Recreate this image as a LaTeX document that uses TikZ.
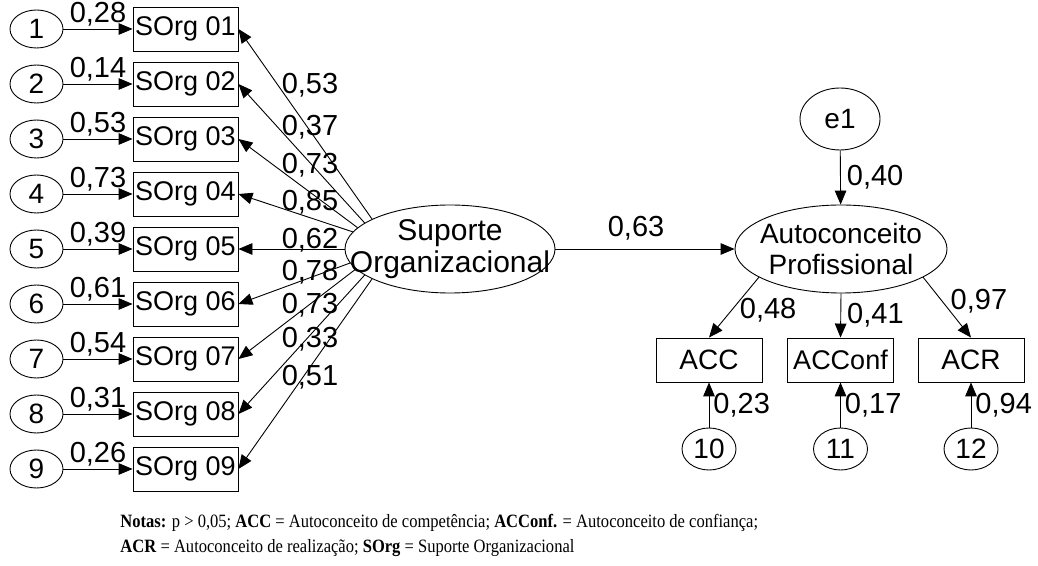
\documentclass[tikz,border=0pt]{standalone}
\usepackage{fontspec}
\setmainfont{Liberation Sans}
\newfontfamily\notafont{Liberation Serif}[FakeStretch=0.88]
\usetikzlibrary{arrows.meta, positioning, shapes.geometric}

\begin{document}
\begin{tikzpicture}[
        x=0.5pt, y=-0.5pt,
        >={Triangle[length=7pt, width=5.8pt]},
        line width=0.45pt,
        item/.style={rectangle, draw=black, minimum width=52.5pt, minimum height=22pt, inner sep=0pt, font=\fontsize{13.5}{15}\selectfont},
        erro/.style={ellipse, draw=black, minimum width=26.5pt, minimum height=19pt, inner sep=0pt, font=\fontsize{14}{16}\selectfont},
        latente/.style={ellipse, draw=black, minimum width=105pt, minimum height=44pt, inner sep=0pt},
        nome/.style={align=center, inner sep=0pt, font=\fontsize{15}{16}\selectfont},
        coef/.style={inner sep=1pt, font=\fontsize{14.5}{16}\selectfont},
        line/.style={draw, ->}
    ]
        \useasboundingbox (0,0) rectangle (1038,566);

        % ================= SUPORTE ORGANIZACIONAL (ESQUERDA) =================
        \node[latente, label={[nome]center:Suporte\\Organizacional}] (sup) at (450, 249) {};

        % Itens e erros
        \foreach \i/\wa in {1/{0,28}, 2/{0,14}, 3/{0,53}, 4/{0,73}, 5/{0,39}, 6/{0,61}, 7/{0,54}, 8/{0,31}, 9/{0,26}}
        {
            \node[erro] (u\i) at (36.5, {29+55*(\i-1)}) {\i};
            \node[item] (s\i) at (185.5, {29+55*(\i-1)}) {SOrg 0\i};
            \path[line] (u\i) -- node[coef, above] {\wa} (s\i);
        }

        % Cargas fatoriais
        \foreach \i/\ang/\cy/\wc in {1/159/85/{0,53}, 2/163/127/{0,37}, 3/167/165/{0,73}, 4/170/202/{0,85}, 5/180/240/{0,62}, 6/188/272/{0,78}, 7/192/305/{0,73}, 8/197/339/{0,33}, 9/201/377/{0,51}}
        {
            \path[line] (sup.\ang) -- (s\i.east);
            \node[coef] (c\i) at (310, \cy) {\wc};
        }

        % ================= AUTOCONCEITO PROFISSIONAL (DIREITA) =================
        \node[latente, minimum width=106pt, label={[nome, font=\fontsize{14}{15.5}\selectfont]center:Autoconceito\\Profissional}] (auto) at (841, 249) {};
        \node[erro, minimum width=40pt, minimum height=31pt] (e1) at (840, 119) {e1};

        \node[item, minimum width=53pt, font=\fontsize{14}{16}\selectfont] (acc) at (709, 360) {ACC};
        \node[item, minimum width=53pt, font=\fontsize{13.5}{16}\selectfont] (accf) at (840.5, 360) {ACConf};
        \node[item, minimum width=53pt, font=\fontsize{14}{16}\selectfont] (acr) at (971, 360) {ACR};

        \node[erro, minimum width=27pt, minimum height=21pt] (u10) at (709, 449) {10};
        \node[erro, minimum width=27pt, minimum height=21pt] (u11) at (840.5, 449) {11};
        \node[erro, minimum width=27pt, minimum height=21pt] (u12) at (971, 449) {12};

        % Conexoes
        \path[line] (sup.east) -- node[coef, above=3pt, pos=0.45] {0,63} (auto.west);
        \path[line] (e1) -- node[coef, right=2pt] {0,40} (auto);
        \path[line] (auto.199) -- node[coef, right=3pt, pos=0.55] {0,48} (acc.north);
        \path[line] (auto.south) -- node[coef, right=2pt] {0,41} (accf.north);
        \path[line] (auto.341) -- node[coef, right=3pt, pos=0.4] {0,97} (acr.north);
        \path[line] (u10) -- node[coef, right=1pt] {0,23} (acc);
        \path[line] (u11) -- node[coef, right=1pt] {0,17} (accf);
        \path[line] (u12) -- node[coef, right=1pt] {0,94} (acr);

        % Notas
        \node[anchor=north west, inner sep=0pt, align=left, font=\notafont\fontsize{9.4}{12.5}\selectfont] (notas) at (120, 514)
            {\textbf{Notas:} p > 0,05; \textbf{ACC} = Autoconceito de competência; \textbf{ACConf.} = Autoconceito de confiança;\\
             \textbf{ACR} = Autoconceito de realização; \textbf{SOrg} = Suporte Organizacional};
\end{tikzpicture}
\end{document}
